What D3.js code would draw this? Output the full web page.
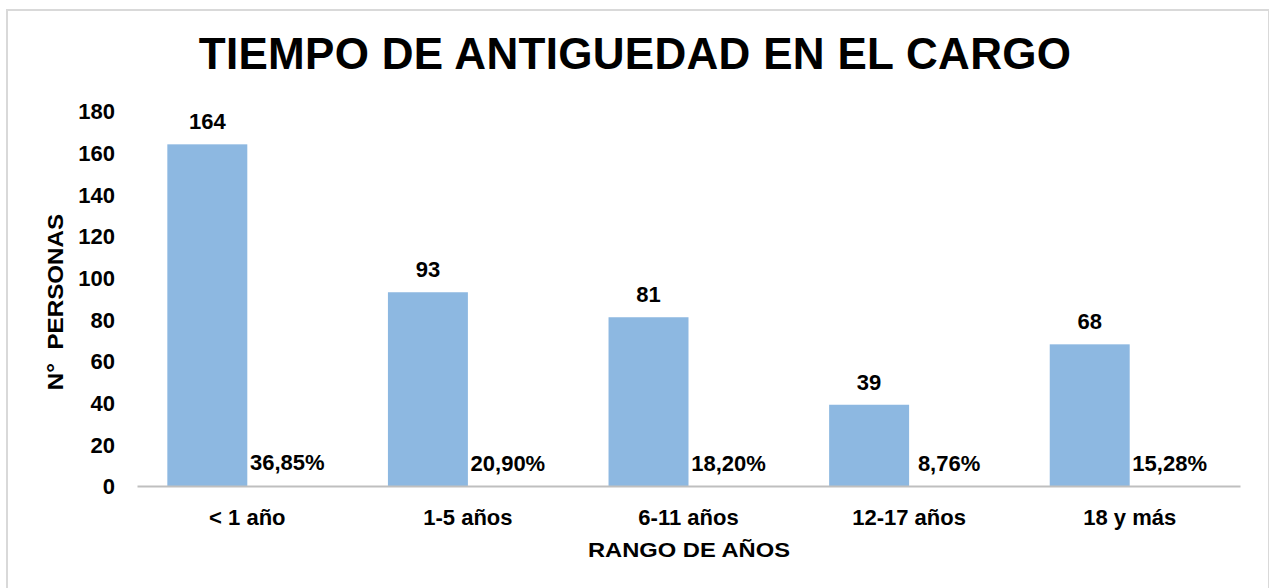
<!DOCTYPE html>
<html>
<head>
<meta charset="utf-8">
<script src="https://cdnjs.cloudflare.com/ajax/libs/d3/7.8.5/d3.min.js"></script>
<style>
  body { margin: 0; background: #fff; }
  text { font-family: "Liberation Sans", Arial, sans-serif; font-weight: bold; fill: #000; }
</style>
</head>
<body>
<div id="viz-container"></div>
<script>
const categories = ['< 1 año', '1-5 años', '6-11 años', '12-17 años', '18 y más'];
const personas = [164, 93, 81, 39, 68];
const porcentajes = [0.3685, 0.2090, 0.1820, 0.0876, 0.1528];
const porcentajeLabels = ['36,85%', '20,90%', '18,20%', '8,76%', '15,28%'];
const yTicks = [0, 20, 40, 60, 80, 100, 120, 140, 160, 180];

const width = 1269, height = 588;
const margin = {top: 111, right: 29, bottom: 102, left: 137};
const fs = '22px';

const viz = d3.select('#viz-container')
    .append('svg')
        .attr('width', width)
        .attr('height', height);

// chart frame
viz.append('rect')
    .attr('x', 7).attr('y', 10)
    .attr('width', 1262).attr('height', 600)
    .attr('fill', 'none')
    .attr('stroke', '#d9d9d9')
    .attr('stroke-width', 2);

const x = d3.scaleBand()
    .domain(categories)
    .range([margin.left, width - margin.right])
    .paddingInner(0.275)
    .paddingOuter(0.1375);

const y = d3.scaleLinear()
    .domain([0, 180])
    .range([height - margin.bottom, margin.top]);

const barW = x.bandwidth() / 2;

// title
viz.append('text')
    .attr('x', 635).attr('y', 69)
    .attr('text-anchor', 'middle')
    .style('font-size', '44px')
    .style('letter-spacing', '0.3px')
    .text('TIEMPO DE ANTIGUEDAD EN EL CARGO');

// y axis
const yAxis = viz.append('g')
    .attr('transform', `translate(${margin.left},0)`)
    .call(d3.axisLeft(y).tickValues(yTicks).tickSize(0).tickPadding(22));
yAxis.select('.domain').remove();
yAxis.selectAll('text').style('font-size', fs).attr('dy', '0.35em');

// bars (count series)
viz.selectAll('rect.bar').data(personas).enter()
    .append('rect')
        .attr('class', 'bar')
        .attr('x', (d, i) => x(categories[i]))
        .attr('y', d => y(d))
        .attr('width', barW)
        .attr('height', d => y(0) - y(d))
        .attr('fill', '#8db8e1');

viz.selectAll('text.val').data(personas).enter()
    .append('text')
        .attr('class', 'val')
        .attr('x', (d, i) => x(categories[i]) + barW / 2)
        .attr('y', d => y(d) - 15)
        .attr('text-anchor', 'middle')
        .style('font-size', fs)
        .text(d => d);

// percentage series (tiny bars, labels only visible)
viz.selectAll('text.pct').data(porcentajes).enter()
    .append('text')
        .attr('class', 'pct')
        .attr('x', (d, i) => x(categories[i]) + barW * 1.5)
        .attr('y', d => y(d) - 15)
        .attr('text-anchor', 'middle')
        .style('font-size', fs)
        .text((d, i) => porcentajeLabels[i]);

// x axis
const xAxis = viz.append('g')
    .attr('transform', `translate(0,${y(0)})`)
    .call(d3.axisBottom(x).tickSize(0).tickPadding(23));
xAxis.select('.domain').attr('stroke', '#bfbfbf').attr('stroke-width', 2);
xAxis.selectAll('text').style('font-size', fs);

// axis titles (slightly stretched horizontally like the original)
viz.append('text')
    .attr('transform', 'translate(689,557) scale(1.13,1)')
    .attr('text-anchor', 'middle')
    .style('font-size', '21px')
    .text('RANGO DE AÑOS');

viz.append('text')
    .attr('transform', 'translate(63,302) rotate(-90) scale(1.1,1)')
    .attr('text-anchor', 'middle')
    .style('font-size', '22px')
    .style('white-space', 'pre')
    .text('N°  PERSONAS');
</script>
</body>
</html>
